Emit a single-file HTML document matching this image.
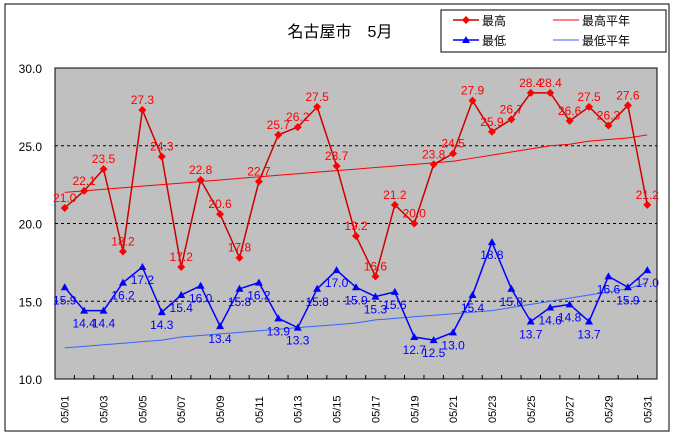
<!DOCTYPE html>
<html><head><meta charset="utf-8"><style>
body{margin:0;background:#fff;}
svg text{font-family:"Liberation Sans","Noto Sans CJK JP",sans-serif;}
</style></head><body>
<svg id="chart" width="676" height="436" xmlns="http://www.w3.org/2000/svg">
<rect x="5" y="4" width="664" height="427" fill="#fff" stroke="#000" stroke-width="1"/>
<text x="340" y="37" font-size="16" text-anchor="middle">名古屋市　5月</text>
<rect x="55" y="68" width="602" height="311" fill="#c0c0c0" stroke="#000"/>
<g id="grid"></g><g id="axes"></g><g id="series"></g>
<g>
<rect x="441" y="10" width="225" height="42" fill="#fff" stroke="#000"/>
<line x1="453" y1="20" x2="479" y2="20" stroke="#cc0000" stroke-width="1.5"/>
<path d="M466 16 L470 20 L466 24 L462 20Z" fill="#ff0000"/>
<text x="482" y="25" font-size="12">最高</text>
<line x1="553" y1="20" x2="579" y2="20" stroke="#ff0000" stroke-width="1"/>
<text x="582" y="25" font-size="12">最高平年</text>
<line x1="453" y1="40" x2="479" y2="40" stroke="#0000ff" stroke-width="1.5"/>
<path d="M466 36 L470 43 L462 43Z" fill="#0000ff"/>
<text x="482" y="45" font-size="12">最低</text>
<line x1="553" y1="40" x2="579" y2="40" stroke="#3366ff" stroke-width="1"/>
<text x="582" y="45" font-size="12">最低平年</text>
</g>
</svg>
<script>
const days=["05/01","05/02","05/03","05/04","05/05","05/06","05/07","05/08","05/09","05/10","05/11","05/12","05/13","05/14","05/15","05/16","05/17","05/18","05/19","05/20","05/21","05/22","05/23","05/24","05/25","05/26","05/27","05/28","05/29","05/30","05/31"];
const maxT=[21.0,22.1,23.5,18.2,27.3,24.3,17.2,22.8,20.6,17.8,22.7,25.7,26.2,27.5,23.7,19.2,16.6,21.2,20.0,23.8,24.5,27.9,25.9,26.7,28.4,28.4,26.6,27.5,26.3,27.6,21.2];
const minT=[15.9,14.4,14.4,16.2,17.2,14.3,15.4,16.0,13.4,15.8,16.2,13.9,13.3,15.8,17.0,15.9,15.3,15.6,12.7,12.5,13.0,15.4,18.8,15.8,13.7,14.6,14.8,13.7,16.6,15.9,17.0];
const maxNorm=[22.0,22.1,22.2,22.3,22.4,22.5,22.6,22.7,22.8,22.9,23.0,23.1,23.2,23.3,23.4,23.5,23.6,23.7,23.8,23.9,24.0,24.2,24.4,24.6,24.8,25.0,25.1,25.3,25.4,25.5,25.7];
const minNorm=[12.0,12.1,12.2,12.3,12.4,12.5,12.7,12.8,12.9,13.0,13.1,13.2,13.3,13.4,13.5,13.6,13.8,13.9,14.0,14.1,14.2,14.3,14.4,14.6,14.8,15.0,15.2,15.4,15.6,15.8,16.2];
const yTicks=[10,15,20,25,30];
const NS="http://www.w3.org/2000/svg";
const X0=55,W=602,Y0=379,H=311,YMIN=10,YMAX=30;
const step=W/days.length;
function xs(i){return X0+step*(i+0.5);}
function ys(v){return Y0-(v-YMIN)/(YMAX-YMIN)*H;}
function mk(tag,attrs,parent){const e=document.createElementNS(NS,tag);for(const k in attrs)e.setAttribute(k,attrs[k]);parent.appendChild(e);return e;}
const grid=document.getElementById('grid'),axes=document.getElementById('axes'),ser=document.getElementById('series');
yTicks.forEach(t=>{
  if(t>YMIN&&t<YMAX){const l=mk('line',{x1:X0,x2:X0+W,y1:ys(t),y2:ys(t),stroke:'#000','stroke-dasharray':'3,3'},grid);
  
  }
  const tx=mk('text',{x:42,y:ys(t)+5,'font-size':12,'text-anchor':'end'},axes);
  tx.textContent=t.toFixed(1);
  
  
});
days.forEach((d,i)=>{
  mk('line',{x1:X0+step*(i+1),x2:X0+step*(i+1),y1:Y0,y2:Y0-4,stroke:'#000'},axes);
  if(i%2===0){const tx=mk('text',{transform:`translate(${xs(i)+4},${Y0+44}) rotate(-90)`,'font-size':11},axes);
  tx.textContent=d;
  
  }
});
function line(arr,color,w,name){const p=mk('polyline',{points:arr.map((v,i)=>xs(i)+','+ys(v)).join(' '),fill:'none',stroke:color,'stroke-width':w},ser);
  
  }
line(maxNorm,'#ff0000',1,'max-normal-line');
line(minNorm,'#3366ff',1,'min-normal-line');
line(maxT,'#cc0000',1.5,'max-line');
line(minT,'#0000ff',1.5,'min-line');
maxT.forEach((v,i)=>{const x=xs(i),y=ys(v);
  const m=mk('path',{d:`M${x} ${y-4}L${x+4} ${y}L${x} ${y+4}L${x-4} ${y}Z`,fill:'#ff0000'},ser);
  
  
  const t=mk('text',{x:x,y:y-6,'font-size':12,fill:'#ff0000','text-anchor':'middle'},ser);
  t.textContent=v.toFixed(1);
  
  });
minT.forEach((v,i)=>{const x=xs(i),y=ys(v);
  const m=mk('path',{d:`M${x} ${y-4}L${x+4} ${y+3}L${x-4} ${y+3}Z`,fill:'#0000ff'},ser);
  
  
  const t=mk('text',{x:x,y:y+17,'font-size':12,fill:'#0000ff','text-anchor':'middle'},ser);
  t.textContent=v.toFixed(1);
  
  });
</script>
</body></html>
